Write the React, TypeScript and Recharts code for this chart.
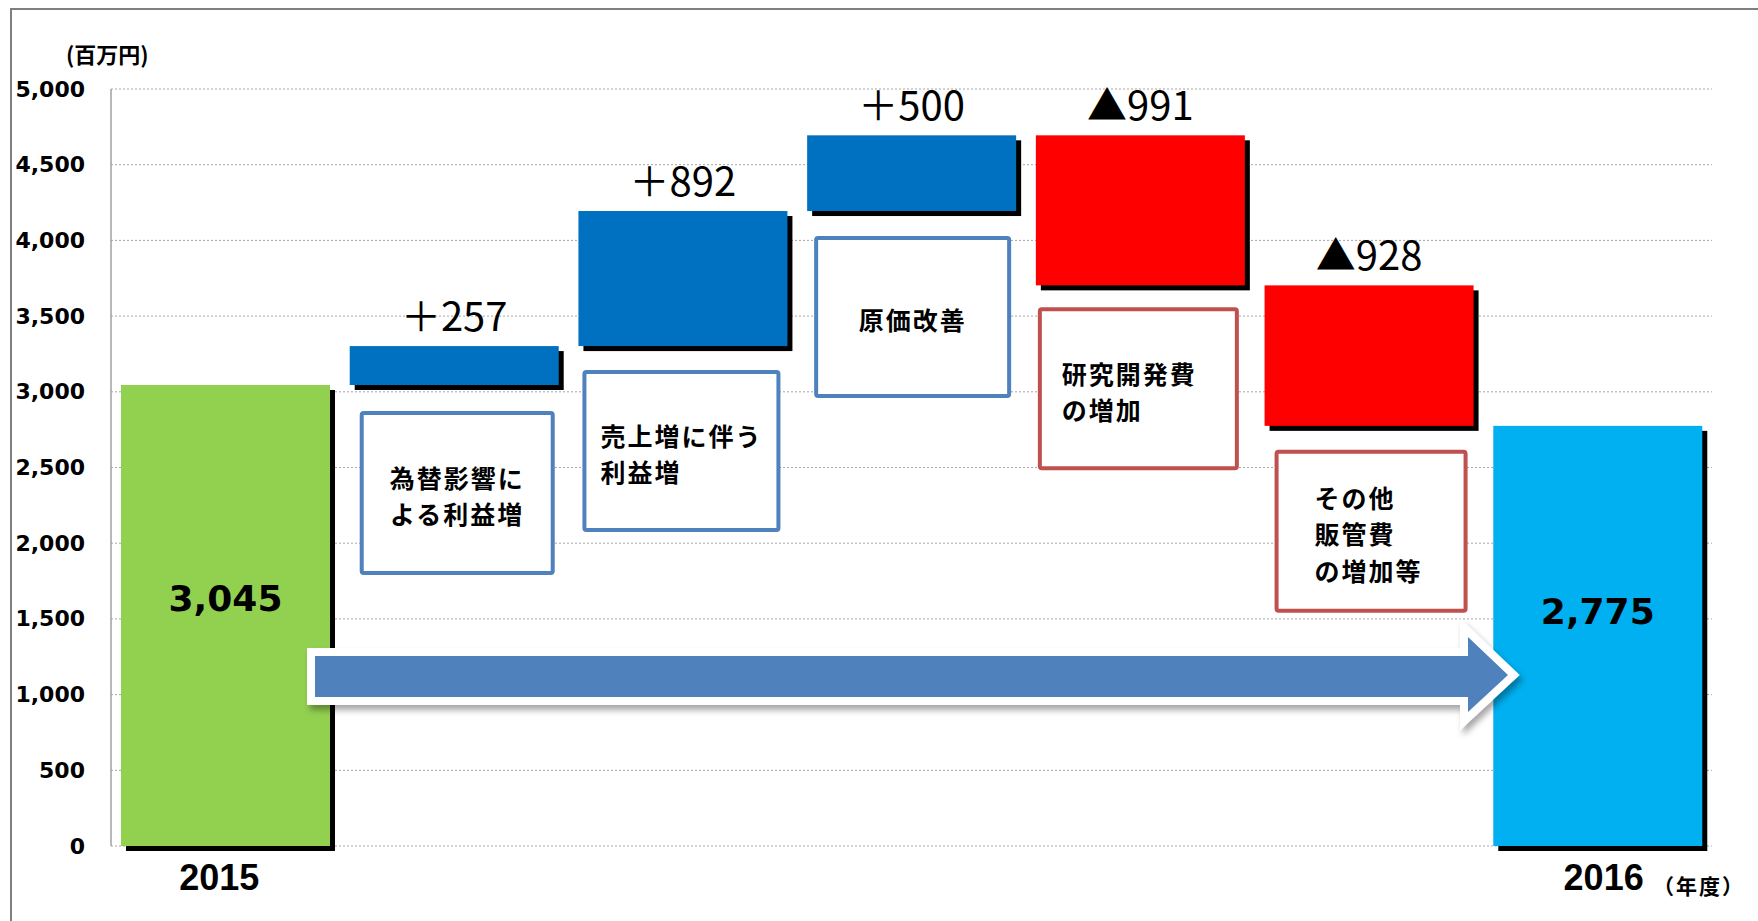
import React from 'react';
import { ComposedChart, Bar, XAxis, YAxis, CartesianGrid, LabelList } from 'recharts';

const categories = ['2015', '為替影響', '売上増', '原価改善', '研究開発費', 'その他販管費', '2016'];
const baseValues = [0, 3045, 3302, 4194, 3703, 2775, 0];
const barValues = [3045, 257, 892, 500, 991, 928, 2775];
const changeLabels = ['', '＋257', '＋892', '＋500', '▲991', '▲928', ''];
const totalLabels = ['3,045', '', '', '', '', '', '2,775'];
const xTickLabels = ['2015', '', '', '', '', '', '2016'];
const noteLines: string[][] = [
  [],
  ['為替影響に', 'よる利益増'],
  ['売上増に伴う', '利益増'],
  ['原価改善'],
  ['研究開発費', 'の増加'],
  ['その他', '販管費', 'の増加等'],
  [],
];
const yTicks = [0, 500, 1000, 1500, 2000, 2500, 3000, 3500, 4000, 4500, 5000];

const barColors = ['#92D050', '#0070C0', '#0070C0', '#0070C0', '#FF0000', '#FF0000', '#00B0F0'];
const totalLabelShift = [-17, 0, 0, 0, 0, 0, -24];
const xTickShift = [-6, 0, 0, 0, 0, 0, 6];
const noteStyles: any[] = [
  null,
  { dx: 12, w: 191, dy: 28, h: 160, color: '#4F81BD', align: 'middle', pad: 0 },
  { dx: 6, w: 194, dy: 26, h: 158, color: '#4F81BD', align: 'start', pad: 16 },
  { dx: 9, w: 193, dy: 27, h: 158, color: '#4F81BD', align: 'middle', pad: 0 },
  { dx: 4, w: 197, dy: 24, h: 159, color: '#C0504D', align: 'start', pad: 22 },
  { dx: 12, w: 189, dy: 26, h: 159, color: '#C0504D', align: 'start', pad: 38 },
  null,
];

const data = categories.map((c, i) => ({ name: c, base: baseValues[i], value: barValues[i], idx: i }));

const JP = "'Noto Sans CJK JP', 'Noto Sans', sans-serif";

const BarShape = (props: any) => {
  const { x, y, width, height, payload } = props;
  const i = payload.idx;
  return (
    <g>
      <rect x={x + 5} y={y + 5} width={width} height={height} fill="#000" />
      <rect x={x} y={y} width={width} height={height} fill={barColors[i]} />
      {i === 0 && (
        <line x1={x} x2={x + width} y1={y} y2={y} stroke="url(#pinkGrad)" strokeWidth={2} />
      )}
    </g>
  );
};

const BarLabels = (props: any) => {
  const vb = props.viewBox || {};
  const x = props.x ?? vb.x;
  const y = props.y ?? vb.y;
  const width = props.width ?? vb.width;
  const height = props.height ?? vb.height;
  const i = props.value;
  const cx = x + width / 2;
  const bottom = y + height;
  const st = noteStyles[i];
  const lines = noteLines[i];
  const lh = 36.5;
  return (
    <g>
      {changeLabels[i] && (
        <text x={cx} y={y - 15} textAnchor="middle" fontFamily={JP} fontSize={40} fill="#000">
          {changeLabels[i]}
        </text>
      )}
      {totalLabels[i] && (
        <text
          x={cx}
          y={y + height / 2 + totalLabelShift[i]}
          textAnchor="middle"
          dominantBaseline="central"
          fontFamily="'DejaVu Sans', sans-serif"
          fontWeight={700}
          fontSize={36}
          fill="#000"
        >
          {totalLabels[i]}
        </text>
      )}
      {st && (
        <g>
          <rect
            x={x + st.dx}
            y={bottom + st.dy}
            width={st.w}
            height={st.h}
            rx={2}
            fill="#fff"
            stroke={st.color}
            strokeWidth={4}
          />
          {lines.map((ln, k) => {
            const cy = bottom + st.dy + st.h / 2 + 2 + (k - (lines.length - 1) / 2) * lh;
            const tx = st.align === 'middle' ? x + st.dx + st.w / 2 : x + st.dx + st.pad;
            return (
              <text
                key={k}
                x={tx}
                y={cy}
                textAnchor={st.align}
                dominantBaseline="central"
                fontFamily={JP}
                fontWeight={700}
                fontSize={25}
                letterSpacing={2}
                fill="#000"
              >
                {ln}
              </text>
            );
          })}
        </g>
      )}
    </g>
  );
};

const YTick = (props: any) => {
  const { x, y, payload } = props;
  return (
    <text
      x={x}
      y={y}
      textAnchor="end"
      dominantBaseline="central"
      fontFamily="'DejaVu Sans', sans-serif"
      fontWeight={700}
      fontSize={22}
      fill="#000"
    >
      {Number(payload.value).toLocaleString('en-US')}
    </text>
  );
};

const XTick = (props: any) => {
  const { x, y, index } = props;
  const label = xTickLabels[index];
  if (!label) return null;
  return (
    <text
      x={x + xTickShift[index]}
      y={y + 44}
      textAnchor="middle"
      fontFamily="'Liberation Sans', Arial, sans-serif"
      fontWeight={700}
      fontSize={36}
      fill="#000"
    >
      {label}
    </text>
  );
};

export default function App() {
  return (
    <div style={{ position: 'absolute', left: 0, top: 0, width: 1758, height: 921, background: '#fff' }}>
      <ComposedChart
        width={1758}
        height={921}
        data={data}
        margin={{ top: 89, right: 46, left: 0, bottom: 0 }}
        barCategoryGap={10}
      >
        <defs>
          <linearGradient id="pinkGrad" x1="0" x2="1" y1="0" y2="0">
            <stop offset="0%" stopColor="#ffd0b0" />
            <stop offset="100%" stopColor="#ff00ff" />
          </linearGradient>
        </defs>
        <CartesianGrid vertical={false} stroke="#a6a6a6" strokeDasharray="2 2" />
        <XAxis
          dataKey="name"
          height={75}
          axisLine={false}
          tickLine={false}
          tickSize={0}
          tickMargin={0}
          tick={<XTick />}
          interval={0}
        />
        <YAxis
          width={111}
          domain={[0, 5000]}
          ticks={yTicks}
          axisLine={{ stroke: '#a0a0a0', strokeWidth: 1.5 }}
          tickLine={false}
          tickSize={0}
          tickMargin={26}
          tick={<YTick />}
          interval={0}
        />
        <Bar dataKey="base" stackId="w" fill="transparent" isAnimationActive={false} />
        <Bar dataKey="value" stackId="w" shape={<BarShape />} isAnimationActive={false}>
          <LabelList dataKey="idx" content={<BarLabels />} />
        </Bar>
      </ComposedChart>
      <svg
        width={1758}
        height={921}
        style={{ position: 'absolute', left: 0, top: 0, pointerEvents: 'none' }}
      >
        <defs>
          <filter id="arrowShadow" x="-5%" y="-50%" width="110%" height="200%">
            <feDropShadow dx="3" dy="5" stdDeviation="3" floodColor="#000" floodOpacity="0.35" />
          </filter>
        </defs>
        <line x1={10} y1={9} x2={1758} y2={9} stroke="#7f7f7f" strokeWidth={2} />
        <line x1={11} y1={8} x2={11} y2={921} stroke="#7f7f7f" strokeWidth={2} />
        <text x={66} y={53} dominantBaseline="central" fontFamily={JP} fontWeight={700} fontSize={22} fill="#000">
          (百万円)
        </text>
        <text
          x={1653}
          y={885}
          dominantBaseline="central"
          fontFamily={JP}
          fontWeight={700}
          fontSize={21}
          letterSpacing={2}
          fill="#000"
        >
          （年度）
        </text>
        <polygon
          points="315,656 1468,656 1468,637 1508,675 1468,712 1468,697 315,697"
          fill="#4F81BD"
          stroke="#fff"
          strokeWidth={16}
          strokeLinejoin="miter"
          strokeMiterlimit={10}
          filter="url(#arrowShadow)"
        />
        <polygon
          points="315,656 1468,656 1468,637 1508,675 1468,712 1468,697 315,697"
          fill="#4F81BD"
        />
      </svg>
    </div>
  );
}
